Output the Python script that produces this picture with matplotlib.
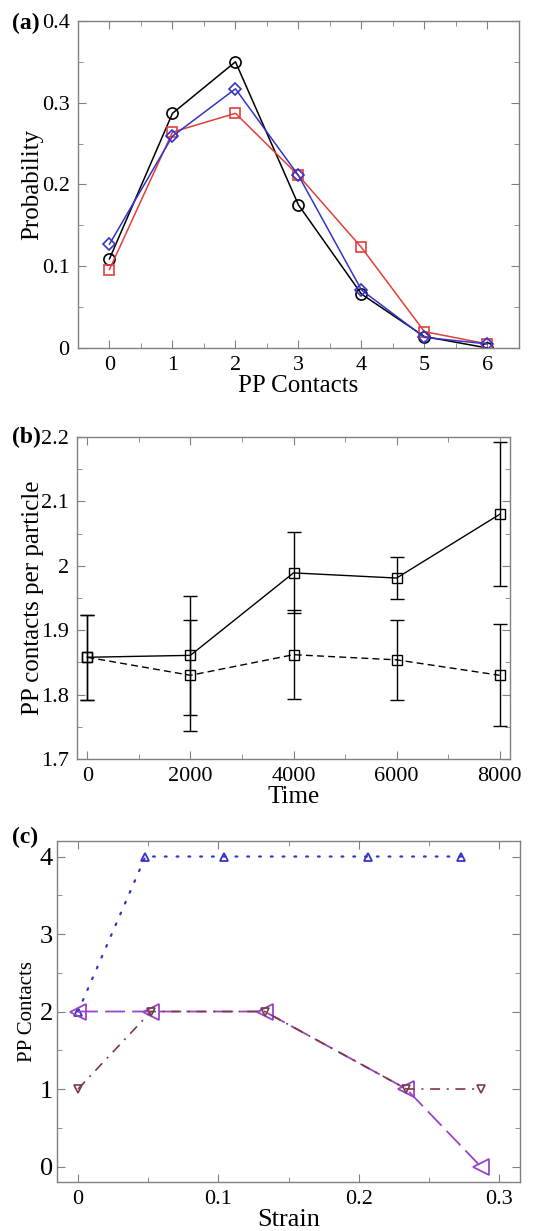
import matplotlib
matplotlib.use('Agg')
import matplotlib.pyplot as plt
from matplotlib.ticker import MultipleLocator

plt.rcParams['font.family'] = ['Liberation Serif', 'DejaVu Serif']
plt.rcParams['mathtext.fontset'] = 'stix'

# (a) probability vs number of PP contacts
contacts = [0, 1, 2, 3, 4, 5, 6]
prob_black = [0.109, 0.287, 0.350, 0.175, 0.066, 0.014, 0.0]
prob_red = [0.096, 0.264, 0.287, 0.211, 0.123, 0.020, 0.005]
prob_blue = [0.127, 0.259, 0.317, 0.211, 0.071, 0.013, 0.005]

# (b) contacts per particle vs time
time = [0, 2000, 4000, 6000, 8000]
solid_vals = [1.858, 1.861, 1.989, 1.981, 2.080]
solid_err = [0.066, 0.092, 0.063, 0.033, 0.112]
dashed_vals = [1.858, 1.830, 1.862, 1.854, 1.830]
dashed_err = [0.066, 0.086, 0.069, 0.062, 0.079]

# (c) contacts vs strain
strain_blue = [0.0, 0.048, 0.104, 0.207, 0.273]
cont_blue = [2, 4, 4, 4, 4]
strain_purple = [0.0, 0.052, 0.133, 0.234, 0.287]
cont_purple = [2, 2, 2, 1, 0]
strain_brown = [0.0, 0.052, 0.133, 0.234, 0.287]
cont_brown = [1, 2, 2, 1, 1]

red = '#e0403c'
blue = '#3434c8'
purple = '#9a44c8'
brown = '#7a3a48'
spine_col = '#808080'

fig = plt.figure(figsize=(5.55, 12.31), dpi=100)


def style_axes(ax, tick_size=15):
    for s in ax.spines.values():
        s.set_color(spine_col)
        s.set_linewidth(1.0)
    ax.tick_params(which='both', direction='in', top=True, right=True,
                   color=spine_col, labelsize=tick_size, pad=6)
    ax.tick_params(which='major', length=6)
    ax.tick_params(which='minor', length=3.5)


# ---- (a)
ax1 = fig.add_axes([0.1405, 0.7173, 0.7945, 0.2657])
ax1.plot(contacts, prob_black, color='black', lw=1.1, marker='o', ms=8,
         mfc='none', mew=1.2)
ax1.plot(contacts, prob_red, color=red, lw=1.1, marker='s', ms=7.5,
         mfc='none', mew=1.2)
ax1.plot(contacts, prob_blue, color=blue, lw=1.1, marker='D', ms=6.5,
         mfc='none', mew=1.2)
ax1.set_xlim(-0.5, 6.5)
ax1.set_ylim(0, 0.4)
ax1.xaxis.set_major_locator(MultipleLocator(1))
ax1.xaxis.set_minor_locator(MultipleLocator(0.5))
ax1.yaxis.set_minor_locator(MultipleLocator(0.05))
ax1.set_yticks([0, 0.1, 0.2, 0.3, 0.4])
ax1.set_yticklabels(['0', '0.1', '0.2', '0.3', '0.4'])
style_axes(ax1, 16)
ax1.set_xlabel('PP Contacts', fontsize=18, labelpad=0)
ax1.set_ylabel('Probability', fontsize=18, labelpad=-1)

# ---- (b)
ax2 = fig.add_axes([0.1387, 0.3834, 0.7803, 0.2616])
ax2.errorbar(time, solid_vals, yerr=solid_err, color='black', lw=1.0,
             marker='s', ms=7, mfc='none', mew=1.0, capsize=5, elinewidth=1.0)
ax2.errorbar(time, dashed_vals, yerr=dashed_err, color='black', lw=1.0,
             ls='--', dashes=(5, 3), marker='s', ms=7, mfc='none', mew=1.0,
             capsize=5, elinewidth=1.0)
ax2.set_xlim(-200, 8200)
ax2.set_ylim(1.7, 2.2)
ax2.xaxis.set_major_locator(MultipleLocator(2000))
ax2.xaxis.set_minor_locator(MultipleLocator(1000))
ax2.set_yticks([1.7, 1.8, 1.9, 2.0, 2.1, 2.2])
ax2.set_yticklabels(['1.7', '1.8', '1.9', '2', '2.1', '2.2'])
ax2.yaxis.set_minor_locator(MultipleLocator(0.05))
style_axes(ax2, 16)
ax2.set_xlabel('Time', fontsize=18, labelpad=0)
ax2.set_ylabel('PP contacts per particle', fontsize=18, labelpad=-2)

# ---- (c)
ax3 = fig.add_axes([0.1027, 0.0398, 0.8343, 0.2770])
ax3.plot(strain_blue, cont_blue, color=blue, lw=1.6, ls=(0, (0.8, 4.5)),
         dash_capstyle='round', marker='^', ms=6, mfc='none', mew=1.3)
ax3.plot(strain_purple, cont_purple, color=purple, lw=1.3, ls='--',
         dashes=(11, 4), marker='<', ms=11, mfc='none', mew=1.3)
ax3.plot(strain_brown, cont_brown, color=brown, lw=1.2, ls='-.',
         dashes=(6, 4, 1.2, 4), marker='v', ms=6, mfc='none', mew=1.2)
ax3.set_xlim(-0.015, 0.315)
ax3.set_ylim(-0.2, 4.2)
ax3.set_xticks([0, 0.1, 0.2, 0.3])
ax3.set_xticklabels(['0', '0.1', '0.2', '0.3'])
ax3.xaxis.set_minor_locator(MultipleLocator(0.05))
ax3.yaxis.set_major_locator(MultipleLocator(1))
ax3.yaxis.set_minor_locator(MultipleLocator(0.5))
style_axes(ax3, 16)
ax3.tick_params(axis='y', labelsize=19, pad=3)
ax3.set_xlabel('Strain', fontsize=19, labelpad=0)
ax3.set_ylabel('PP Contacts', fontsize=15, labelpad=2)

# panel labels
fig.text(0.022, 0.981, '(a)', fontsize=17, fontweight='bold', va='center')
fig.text(0.022, 0.645, '(b)', fontsize=17, fontweight='bold', va='center')
fig.text(0.022, 0.320, '(c)', fontsize=17, fontweight='bold', va='center')

fig.savefig('out.png', dpi=100)
